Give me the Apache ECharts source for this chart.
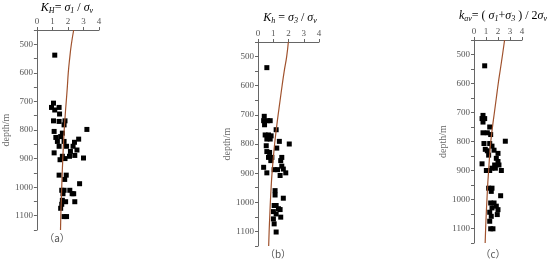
<!DOCTYPE html>
<html>
<head>
<meta charset="utf-8">
<script src="https://cdn.jsdelivr.net/npm/echarts@6/dist/echarts.min.js"></script>
<style>
html, body { margin: 0; padding: 0; background: #fff; }
#main { width: 550px; height: 261px; }
</style>
</head>
<body>
<div id="main"></div>
<script>
// depth (m) of the fitted curves
var curveDepth = [450, 500, 550, 600, 650, 700, 750, 800, 850, 900, 950, 1000, 1050, 1100, 1150];
// fitted curves K(depth)
var curveA = [2.37, 2.22, 2.11, 2.02, 1.96, 1.89, 1.82, 1.76, 1.71, 1.67, 1.63, 1.60, 1.57, 1.54, 1.52];
var curveB = [1.99, 1.88, 1.72, 1.58, 1.45, 1.32, 1.20, 1.09, 1.00, 0.92, 0.86, 0.81, 0.77, 0.73, 0.70];
var curveC = [2.55, 2.38, 2.20, 2.02, 1.86, 1.70, 1.54, 1.40, 1.30, 1.22, 1.14, 1.08, 1.02, 0.97, 0.93];

// measured points: KH, depth
var kH = [1.15, 1.07, 0.94, 1.43, 1.15, 1.46, 1.07, 1.43, 1.81, 1.75, 3.22, 1.11, 1.64, 1.22, 1.53,
	2.69, 1.32, 2.42, 1.75, 1.43, 1.91, 2.33, 2.58, 1.11, 2.16, 2.44, 1.64, 2.10, 3.00, 1.49,
	1.81, 1.43, 1.89, 1.79, 2.75, 1.60, 1.75, 2.12, 2.37, 2.27, 1.68, 1.64, 1.85, 2.44, 1.60,
	1.53, 1.75, 1.91];
var depthH = [538, 706, 721, 721, 730, 744, 768, 770, 768, 782, 798, 805, 811, 826, 823,
	832, 840, 843, 840, 857, 857, 857, 870, 880, 875, 889, 892, 892, 898, 904,
	900, 958, 958, 973, 988, 1011, 1011, 1011, 1023, 1023, 1023, 1046, 1051, 1051, 1060,
	1074, 1103, 1103];

// Kh, depth
var kh = [0.58, 0.41, 0.37, 0.63, 0.80, 0.43, 0.47, 0.69, 0.86, 1.19, 0.58, 0.80, 1.40, 2.05, 0.54,
	1.23, 0.58, 0.76, 0.69, 0.91, 1.56, 1.49, 0.84, 0.37, 1.56, 1.06, 1.28, 1.66, 0.58, 1.45,
	1.82, 1.12, 1.12, 1.66, 1.06, 1.19, 1.34, 1.45, 1.01, 1.19, 1.49, 1.01, 1.06, 1.19];
var depthh = [538, 705, 720, 720, 720, 734, 769, 769, 772, 751, 783, 783, 791, 800, 806,
	814, 826, 829, 846, 846, 846, 857, 857, 880, 876, 888, 888, 886, 899, 908,
	899, 960, 975, 986, 1011, 1011, 1022, 1025, 1032, 1040, 1051, 1057, 1074, 1102];

// kav, depth
var kav = [0.89, 0.75, 0.67, 0.89, 0.75, 1.31, 0.75, 1.11, 1.39, 2.61, 0.83, 1.31, 1.50, 0.94, 1.11,
	1.67, 2.00, 1.22, 1.86, 2.00, 0.67, 1.72, 2.08, 1.50, 1.03, 1.31, 2.28, 1.78, 1.22, 1.50,
	1.44, 2.22, 1.39, 1.67, 1.86, 1.50, 2.00, 1.31, 1.94, 1.44, 1.31, 1.39, 1.58];
var depthav = [539, 710, 721, 721, 733, 750, 770, 770, 776, 799, 807, 807, 816, 827, 832,
	830, 841, 847, 858, 869, 877, 881, 881, 892, 900, 900, 900, 892, 961, 961,
	972, 987, 1012, 1012, 1023, 1029, 1035, 1044, 1052, 1058, 1075, 1101, 1101];

var xTicks = [0, 1, 2, 3, 4];

function pairs(xs, ys) {
	var out = [];
	for (let i = 0; i < xs.length; i++) {
		out.push([xs[i], ys[i]]);
	}
	return out;
}

var serif = 'Liberation Serif';

// panel boxes in pixels
var panels = [
	{ left: 36, top: 30, width: 63, height: 200, nameGap: 18, curve: curveA, xs: kH, ys: depthH },
	{ left: 258, top: 42, width: 61, height: 204, nameGap: 20, curve: curveB, xs: kh, ys: depthh },
	{ left: 474, top: 40, width: 48, height: 203, nameGap: 20, curve: curveC, xs: kav, ys: depthav }
];

var grids = [], xAxes = [], yAxes = [], series = [];
for (let i = 0; i < panels.length; i++) {
	let p = panels[i];
	grids.push({ left: p.left, top: p.top, width: p.width, height: p.height });
	xAxes.push({
		gridIndex: i,
		type: 'value',
		position: 'top',
		min: xTicks[0],
		max: xTicks[xTicks.length - 1],
		interval: 1,
		axisLine: { lineStyle: { color: '#666', width: 1 } },
		axisTick: { length: 3, lineStyle: { color: '#666' } },
		axisLabel: { color: '#555', fontSize: 9, fontFamily: serif, margin: 4 },
		splitLine: { show: false }
	});
	yAxes.push({
		gridIndex: i,
		type: 'value',
		inverse: true,
		min: 450,
		max: 1150,
		interval: 50,
		name: 'depth/m',
		nameLocation: 'middle',
		nameGap: p.nameGap + 6,
		nameTextStyle: { color: '#666', fontSize: 10, fontFamily: serif },
		axisLine: { lineStyle: { color: '#666', width: 1 } },
		axisTick: { length: 3, lineStyle: { color: '#666' } },
		axisLabel: {
			color: '#555', fontSize: 9, fontFamily: serif, margin: 4,
			formatter: function (v) { return v % 100 === 0 ? v : ''; }
		},
		splitLine: { show: false }
	});
	series.push({
		type: 'scatter',
		xAxisIndex: i,
		yAxisIndex: i,
		symbol: 'rect',
		symbolSize: 5,
		itemStyle: { color: '#000', opacity: 1 },
		data: pairs(p.xs, p.ys),
		z: 2
	});
	series.push({
		type: 'line',
		xAxisIndex: i,
		yAxisIndex: i,
		smooth: true,
		showSymbol: false,
		lineStyle: { color: '#a0522d', width: 1.2 },
		data: pairs(p.curve, curveDepth),
		z: 3
	});
}

var rich = {
	i: { fontFamily: serif, fontStyle: 'italic', fontSize: 12, color: '#222' },
	n: { fontFamily: serif, fontSize: 12, color: '#222' },
	s: { fontFamily: serif, fontStyle: 'italic', fontSize: 8, color: '#222', verticalAlign: 'bottom', padding: [6, 0, 0, 0] }
};

var titles = [
	{ text: '{i|K}{s|H}{n|= }{i|σ}{s|1}{n| / }{i|σ}{s|v}', left: 67, top: 1 },
	{ text: '{i|K}{s|h}{n| = }{i|σ}{s|3}{n| / }{i|σ}{s|v}', left: 290, top: 11 },
	{ text: '{i|k}{s|av}{n|= ( }{i|σ}{s|1}{n|+}{i|σ}{s|3}{n| ) / 2}{i|σ}{s|v}', left: 503, top: 9 }
];

var graphics = [];
for (let i = 0; i < titles.length; i++) {
	graphics.push({
		type: 'text',
		x: titles[i].left,
		y: titles[i].top,
		style: { text: titles[i].text, rich: rich, align: 'center' }
	});
}

var panelLabels = [['（a）', 57, 238], ['（b）', 278, 254], ['（c）', 493, 254]];
for (let i = 0; i < panelLabels.length; i++) {
	graphics.push({
		type: 'text',
		x: panelLabels[i][1],
		y: panelLabels[i][2],
		style: {
			text: panelLabels[i][0],
			fill: '#555',
			font: '10px "Noto Sans CJK SC", serif',
			align: 'center',
			verticalAlign: 'middle'
		}
	});
}

var option = {
	animation: false,
	backgroundColor: '#fff',
	grid: grids,
	xAxis: xAxes,
	yAxis: yAxes,
	series: series,
	graphic: graphics
};

var myChart = echarts.init(document.getElementById('main'));
myChart.setOption(option);
</script>
</body>
</html>
